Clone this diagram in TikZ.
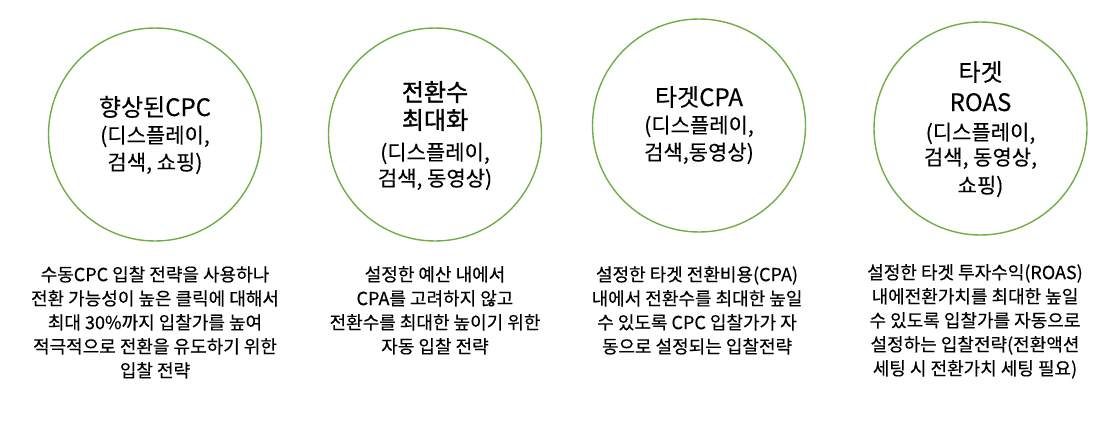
\documentclass[tikz,border=0pt]{standalone}
\usepackage{fontspec}
\setmainfont{Noto Sans CJK KR}[FakeBold=0.3]
\newfontfamily\heavyfont{Noto Sans CJK KR}[FakeBold=1.4]
\definecolor{ringgreen}{HTML}{70AD47}
\definecolor{ink}{HTML}{000000}
\begin{document}
\begin{tikzpicture}[x=1pt,y=-1pt]
\useasboundingbox (0,0) rectangle (1099,434);
\tikzset{
  ring/.style={circle,draw=ringgreen,line width=1.4pt,minimum size=213pt,inner sep=0pt},
  ttl/.style={anchor=base,inner sep=0pt,text=ink,font=\fontsize{24}{28}\selectfont},
  ttlheavy/.style={ttl,font=\heavyfont\fontsize{24}{28}\selectfont},
  sub/.style={anchor=base,inner sep=0pt,text=ink,font=\fontsize{21}{26}\selectfont},
  desc/.style={anchor=north,inner sep=0pt,align=center,text=ink,font=\fontsize{18}{24}\selectfont}
}
% circles
\node[ring] (c1) at (155,134.5) {};
\node[ring] (c2) at (435,134.5) {};
\node[ring] (c3) at (699,125.5) {};
\node[ring] (c4) at (980.5,128.5) {};
% circle 1
\node[ttl] (c1a) at (155,116) {향상된CPC};
\node[sub] (c1b) at (155,143) {(디스플레이,};
\node[sub] (c1c) at (155,170) {검색, 쇼핑)};
% circle 2
\node[ttlheavy] (c2a) at (435,101) {전환수};
\node[ttlheavy] (c2b) at (435,129) {최대화};
\node[sub] (c2c) at (435,160) {(디스플레이,};
\node[sub] (c2d) at (435,186) {검색, 동영상)};
% circle 3
\node[ttl] (c3a) at (699,106) {타겟CPA};
\node[sub] (c3b) at (699,133) {(디스플레이,};
\node[sub] (c3c) at (699,160) {검색,동영상)};
% circle 4
\node[ttl] (c4a) at (980.5,81) {타겟};
\node[ttl] (c4b) at (980.5,111) {ROAS};
\node[sub] (c4c) at (980.5,140) {(디스플레이,};
\node[sub] (c4d) at (980.5,165) {검색, 동영상,};
\node[sub] (c4e) at (980.5,193) {쇼핑)};
% descriptions
\node[desc] (d1) at (155,266) {수동CPC 입찰 전략을 사용하나\\전환 가능성이 높은 클릭에 대해서\\최대 30\%까지 입찰가를 높여\\적극적으로 전환을 유도하기 위한\\입찰 전략};
\node[desc] (d2) at (435,266) {설정한 예산 내에서\\CPA를 고려하지 않고\\전환수를 최대한 높이기 위한\\자동 입찰 전략};
\node[desc] (d3) at (697,266) {설정한 타겟 전환비용(CPA)\\내에서 전환수를 최대한 높일\\수 있도록 CPC 입찰가가 자\\동으로 설정되는 입찰전략};
\node[desc] (d4) at (975,264) {설정한 타겟 투자수익(ROAS)\\내에전환가치를 최대한 높일\\수 있도록 입찰가를 자동으로\\설정하는 입찰전략(전환액션\\세팅 시 전환가치 세팅 필요)};
\end{tikzpicture}
\end{document}
